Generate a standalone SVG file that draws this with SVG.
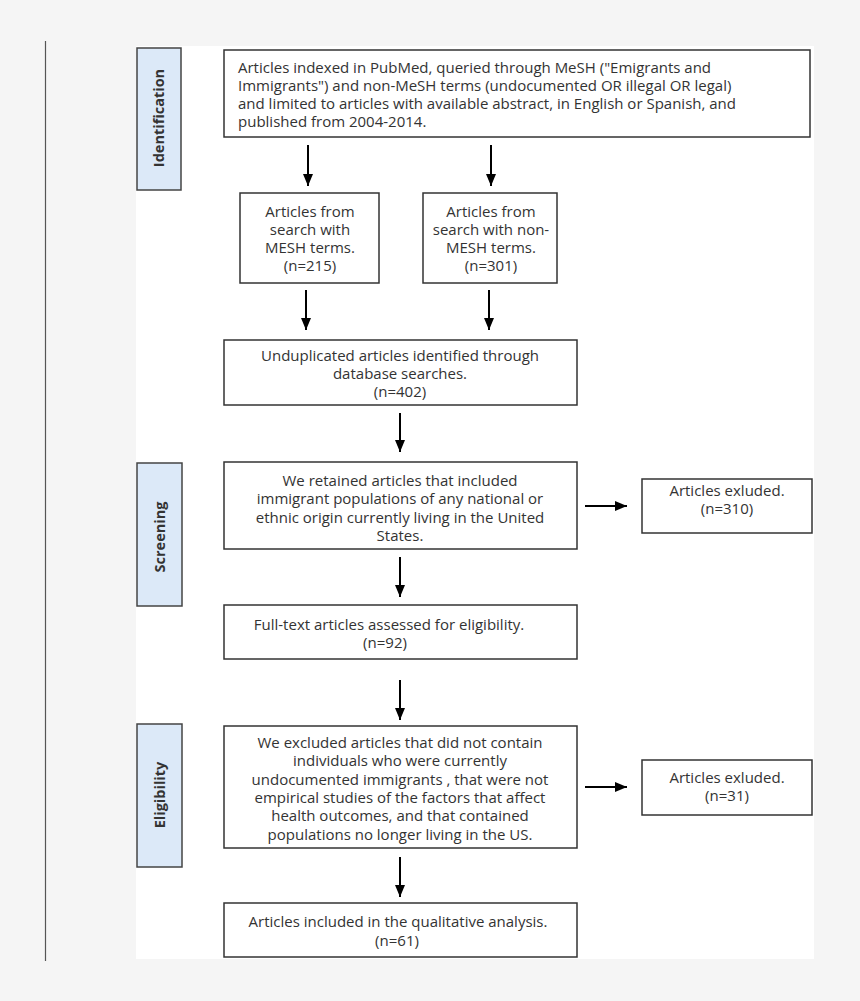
<svg xmlns="http://www.w3.org/2000/svg" width="860" height="1001" viewBox="0 0 860 1001">
<defs>
<marker id="ah" markerWidth="12" markerHeight="10" refX="12" refY="5" orient="auto" markerUnits="userSpaceOnUse" viewBox="0 0 12 10">
<path d="M0,0 L12,5 L0,10 Z" fill="#000"/>
</marker>
<style>
.box{fill:#fff;stroke:#333;stroke-width:1.5}
.stage{fill:#dce9f8;stroke:#444;stroke-width:1.5}
.t{font-family:"Open Sans","Noto Sans",sans-serif;font-size:15px;fill:#333}
.c{text-anchor:middle}
.lab{font-family:"Open Sans","Noto Sans",sans-serif;font-size:14.5px;font-weight:bold;fill:#333;text-anchor:middle}
.arr{stroke:#000;stroke-width:2;fill:none}
</style>
</defs>
<rect x="0" y="0" width="860" height="1001" fill="#f5f5f5"/>
<rect x="136" y="46" width="678" height="913" fill="#fff"/>
<line x1="45.5" y1="41" x2="45.5" y2="961" stroke="#555" stroke-width="1.2"/>

<g id="stage-identification">
<rect class="stage" x="137" y="48" width="44" height="142"/>
<text class="lab" transform="translate(164,118) rotate(-90)">Identification</text>
</g>
<g id="stage-screening">
<rect class="stage" x="137" y="463" width="45" height="143"/>
<text class="lab" transform="translate(164.5,537) rotate(-90)">Screening</text>
</g>
<g id="stage-eligibility">
<rect class="stage" x="137" y="724" width="45" height="143"/>
<text class="lab" transform="translate(164.5,795) rotate(-90)">Eligibility</text>
</g>

<g id="node-pubmed">
<rect class="box" x="224" y="50" width="586" height="87"/>
<text class="t" x="238" y="73">Articles indexed in PubMed, queried through MeSH ("Emigrants and</text>
<text class="t" x="238" y="91">Immigrants") and non-MeSH terms (undocumented OR illegal OR legal)</text>
<text class="t" x="238" y="109">and limited to articles with available abstract, in English or Spanish, and</text>
<text class="t" x="238" y="127">published from 2004-2014.</text>
</g>
<g id="node-mesh">
<rect class="box" x="240" y="193" width="139" height="90"/>
<text class="t c" x="310" y="217">Articles from</text>
<text class="t c" x="310" y="235">search with</text>
<text class="t c" x="310" y="253">MESH terms.</text>
<text class="t c" x="310" y="271">(n=215)</text>
</g>
<g id="node-nonmesh">
<rect class="box" x="423" y="193" width="134" height="90"/>
<text class="t c" x="491" y="217">Articles from</text>
<text class="t c" x="491" y="235">search with non-</text>
<text class="t c" x="491" y="253">MESH terms.</text>
<text class="t c" x="491" y="271">(n=301)</text>
</g>
<g id="node-unduplicated">
<rect class="box" x="224" y="340" width="353" height="65"/>
<text class="t c" x="400" y="361">Unduplicated articles identified through</text>
<text class="t c" x="400" y="379">database searches.</text>
<text class="t c" x="400" y="397">(n=402)</text>
</g>
<g id="node-retained">
<rect class="box" x="224" y="462" width="353" height="87"/>
<text class="t c" x="400" y="486">We retained articles that included</text>
<text class="t c" x="400" y="504">immigrant populations of any national or</text>
<text class="t c" x="400" y="523">ethnic origin currently living in the United</text>
<text class="t c" x="400" y="541">States.</text>
</g>
<g id="node-excluded1">
<rect class="box" x="642" y="479" width="170" height="54"/>
<text class="t c" x="727" y="496">Articles exluded.</text>
<text class="t c" x="727" y="514">(n=310)</text>
</g>
<g id="node-fulltext">
<rect class="box" x="224" y="605" width="353" height="54"/>
<text class="t c" x="389" y="630">Full-text articles assessed for eligibility.</text>
<text class="t c" x="385" y="648">(n=92)</text>
</g>
<g id="node-excludedcrit">
<rect class="box" x="224" y="726" width="353" height="122"/>
<text class="t c" x="400" y="748">We excluded articles that did not contain</text>
<text class="t c" x="400" y="766">individuals who were currently</text>
<text class="t c" x="400" y="785">undocumented immigrants , that were not</text>
<text class="t c" x="400" y="803">empirical studies of the factors that affect</text>
<text class="t c" x="400" y="821">health outcomes, and that contained</text>
<text class="t c" x="400" y="840">populations no longer living in the US.</text>
</g>
<g id="node-excluded2">
<rect class="box" x="642" y="760" width="170" height="55"/>
<text class="t c" x="727" y="783">Articles exluded.</text>
<text class="t c" x="727" y="801">(n=31)</text>
</g>
<g id="node-included">
<rect class="box" x="224" y="903" width="353" height="54"/>
<text class="t c" x="398" y="927">Articles included in the qualitative analysis.</text>
<text class="t c" x="397" y="946">(n=61)</text>
</g>

<g id="connectors">
<line class="arr" x1="308" y1="145" x2="308" y2="186" marker-end="url(#ah)"/>
<line class="arr" x1="491" y1="145" x2="491" y2="186" marker-end="url(#ah)"/>
<line class="arr" x1="306" y1="290" x2="306" y2="330" marker-end="url(#ah)"/>
<line class="arr" x1="489" y1="290" x2="489" y2="330" marker-end="url(#ah)"/>
<line class="arr" x1="400" y1="413" x2="400" y2="452" marker-end="url(#ah)"/>
<line class="arr" x1="400" y1="557" x2="400" y2="597" marker-end="url(#ah)"/>
<line class="arr" x1="400" y1="680" x2="400" y2="720" marker-end="url(#ah)"/>
<line class="arr" x1="400" y1="857" x2="400" y2="897" marker-end="url(#ah)"/>
<line class="arr" x1="585" y1="506" x2="627" y2="506" marker-end="url(#ah)"/>
<line class="arr" x1="585" y1="787" x2="627" y2="787" marker-end="url(#ah)"/>
</g>
</svg>
